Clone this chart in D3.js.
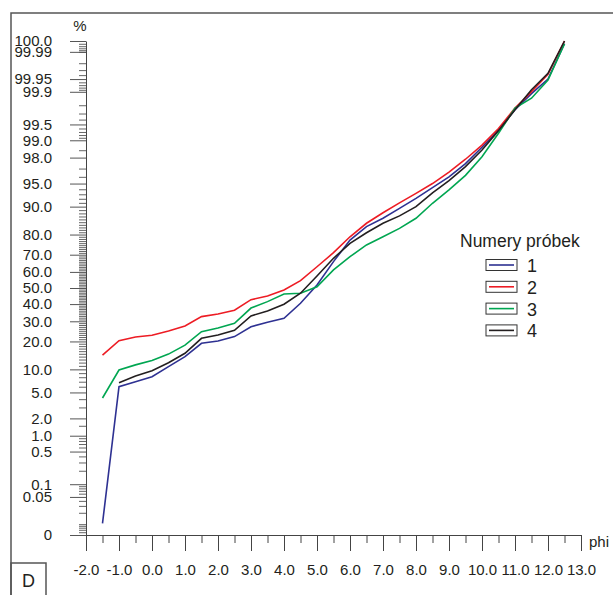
<!DOCTYPE html>
<html>
<head>
<meta charset="utf-8">
<script src="https://cdn.jsdelivr.net/npm/d3@7"></script>
<style>
  body { margin: 0; background: #fff; }
  text { font-family: "Liberation Sans", Arial, sans-serif; fill: #231f20; }
</style>
</head>
<body>
<div id="chart"></div>
<script>
var svgWidth = 613;
var svgHeight = 595;

// phi classes (x) and cumulative percentages per sample
var phi = [-1.5, -1.0, -0.5, 0.0, 0.5, 1.0, 1.5, 2.0, 2.5, 3.0, 3.5, 4.0, 4.5, 5.0, 5.5,
           6.0, 6.5, 7.0, 7.5, 8.0, 8.5, 9.0, 9.5, 10.0, 10.5, 11.0, 11.5, 12.0, 12.5];

var sample1 = [0.0105, 6.0, 7.0, 8.1, 10.8, 14.0, 19.2, 20.2, 22.2, 27.1, 29.5, 31.7, 40.5, 51.9, 66.1,
               77.5, 83.3, 86.4, 89.5, 92.1, 94.3, 96.0, 97.5, 98.67, 99.36, 99.75, 99.89, 99.95, 99.994];
var sample2 = [14.5, 20.3, 22.0, 22.8, 24.9, 27.5, 32.6, 34.1, 36.3, 42.7, 45.0, 48.8, 54.6, 63.1, 71.1,
               79.0, 84.6, 88.2, 91.0, 93.2, 95.0, 96.6, 97.87, 98.78, 99.40, 99.77, 99.90, 99.962, 99.996];
var sample3 = [4.16, 9.83, 11.3, 12.7, 14.9, 18.4, 24.6, 26.4, 28.9, 37.6, 41.5, 46.2, 46.7, 50.8, 61.2,
               68.9, 75.1, 79.0, 82.6, 86.4, 90.9, 93.9, 96.2, 98.07, 99.26, 99.77, 99.86, 99.947, 99.994];
var sample4 = [null, 6.8, 8.3, 9.65, 11.98, 15.2, 21.4, 23.0, 25.3, 33.0, 35.9, 39.9, 46.7, 57.5, 68.0,
               75.9, 80.8, 84.6, 87.2, 90.0, 93.3, 95.45, 97.2, 98.51, 99.34, 99.75, 99.91, 99.964, 99.995];

var sampleNames = ["1", "2", "3", "4"];
var sampleColors = ["#2e3192", "#ed1c24", "#00a651", "#231f20"];

// probability axis ticks
var yTickValues = [0, 0.05, 0.1, 0.5, 1, 2, 5, 10, 20, 30, 40, 50, 60, 70, 80, 90, 95, 98, 99, 99.5, 99.9, 99.95, 99.99, 100];
var yTickLabels = ["0", "0.05", "0.1", "0.5", "1.0", "2.0", "5.0", "10.0", "20.0", "30.0", "40.0", "50.0", "60.0", "70.0",
                   "80.0", "90.0", "95.0", "98.0", "99.0", "99.5", "99.9", "99.95", "99.99", "100.0"];
var yMinorValues = [0.006, 0.007, 0.008, 0.009, 0.01, 0.02, 0.03, 0.04, 0.06, 0.07, 0.08, 0.09, 0.2, 0.3, 0.4,
                    0.6, 0.7, 0.8, 0.9, 1.5, 3, 4, 6, 7, 8, 9,
                    11, 12, 13, 14, 15, 16, 17, 18, 19, 21, 22, 23, 24, 25, 26, 27, 28, 29,
                    31, 32, 33, 34, 35, 36, 37, 38, 39, 41, 42, 43, 44, 45, 46, 47, 48, 49,
                    51, 52, 53, 54, 55, 56, 57, 58, 59, 61, 62, 63, 64, 65, 66, 67, 68, 69,
                    71, 72, 73, 74, 75, 76, 77, 78, 79, 81, 82, 83, 84, 85, 86, 87, 88, 89,
                    91, 92, 93, 94, 96, 97, 98.5, 99.1, 99.2, 99.3, 99.4, 99.6, 99.7, 99.8,
                    99.91, 99.92, 99.93, 99.94, 99.96, 99.97, 99.98, 99.99, 99.991, 99.992, 99.993, 99.994];

var xTicks = d3.range(-2, 13.01, 1);
var xMinor = d3.range(-1.5, 13, 1);

var zMax = 3.89;

// inverse normal cdf (Acklam)
function probit(p) {
    var a = [-3.969683028665376e+01, 2.209460984245205e+02, -2.759285104469687e+02, 1.383577518672690e+02, -3.066479806614716e+01, 2.506628277459239e+00];
    var b = [-5.447609879822406e+01, 1.615858368580409e+02, -1.556989798598866e+02, 6.680131188771972e+01, -1.328068155288572e+01];
    var c = [-7.784894002430293e-03, -3.223964580411365e-01, -2.400758277161838e+00, -2.549732539343734e+00, 4.374664141464968e+00, 2.938163982698783e+00];
    var d = [7.784695709041462e-03, 3.224671290700398e-01, 2.445134137142996e+00, 3.754408661907416e+00];
    var q, r;
    if (p < 0.02425) {
        q = Math.sqrt(-2 * Math.log(p));
        return (((((c[0]*q+c[1])*q+c[2])*q+c[3])*q+c[4])*q+c[5]) / ((((d[0]*q+d[1])*q+d[2])*q+d[3])*q+1);
    }
    if (p <= 1 - 0.02425) {
        q = p - 0.5; r = q * q;
        return (((((a[0]*r+a[1])*r+a[2])*r+a[3])*r+a[4])*r+a[5])*q / (((((b[0]*r+b[1])*r+b[2])*r+b[3])*r+b[4])*r+1);
    }
    q = Math.sqrt(-2 * Math.log(1 - p));
    return -(((((c[0]*q+c[1])*q+c[2])*q+c[3])*q+c[4])*q+c[5]) / ((((d[0]*q+d[1])*q+d[2])*q+d[3])*q+1);
}

function zOf(pct) {
    if (pct <= 0) return -zMax;
    if (pct >= 100) return zMax;
    return Math.max(-zMax, Math.min(zMax, probit(pct / 100)));
}

var svg = d3.select("#chart")
    .append("svg")
    .attr("width", svgWidth)
    .attr("height", svgHeight);

var xScale = d3.scaleLinear().domain([-2, 13]).range([86, 581]);
var yScale = d3.scaleLinear().domain([-zMax, zMax]).range([535, 41]);

// frame
svg.append("path")
    .attr("d", "M11,595 V13 H613")
    .attr("fill", "none")
    .attr("stroke", "#555")
    .attr("stroke-width", 1.5);

svg.append("rect")
    .attr("x", 11).attr("y", 563).attr("width", 35).attr("height", 40)
    .attr("fill", "none").attr("stroke", "#555").attr("stroke-width", 1.5);

svg.append("text")
    .attr("x", 28.5).attr("y", 587)
    .attr("text-anchor", "middle")
    .attr("font-size", "18px")
    .text("D");

// y axis, minor ticks first
var yMinorAxis = d3.axisLeft(yScale)
    .tickValues(yMinorValues.map(zOf))
    .tickSize(7)
    .tickSizeOuter(0)
    .tickFormat("");

svg.append("g")
    .attr("transform", "translate(86,0)")
    .call(yMinorAxis)
    .call(g => g.selectAll("line").attr("stroke", "#555").attr("stroke-width", 0.9))
    .call(g => g.select(".domain").attr("stroke", "#444"));

var yAxis = d3.axisLeft(yScale)
    .tickValues(yTickValues.map(zOf))
    .tickSize(16)
    .tickSizeOuter(0)
    .tickPadding(18)
    .tickFormat((d, i) => yTickLabels[i]);

svg.append("g")
    .attr("transform", "translate(86,0)")
    .call(yAxis)
    .call(g => g.select(".domain").remove())
    .call(g => g.selectAll("line").attr("stroke", "#555"))
    .call(g => g.selectAll("text")
        .attr("font-size", "15px")
        .attr("font-family", "Liberation Sans, Arial, sans-serif")
        .attr("fill", "#231f20"));

svg.append("text")
    .attr("x", 80).attr("y", 31)
    .attr("text-anchor", "middle")
    .attr("font-size", "15px")
    .text("%");

// x axis
var xMinorAxis = d3.axisBottom(xScale)
    .tickValues(xMinor)
    .tickSize(8)
    .tickSizeOuter(0)
    .tickFormat("");

svg.append("g")
    .attr("transform", "translate(0,535)")
    .call(xMinorAxis)
    .call(g => g.selectAll("line").attr("stroke", "#444"))
    .call(g => g.select(".domain").attr("stroke", "#444"));

var xAxis = d3.axisBottom(xScale)
    .tickValues(xTicks)
    .tickSize(16)
    .tickSizeOuter(0)
    .tickPadding(13)
    .tickFormat(d => d.toFixed(1));

svg.append("g")
    .attr("transform", "translate(0,535)")
    .call(xAxis)
    .call(g => g.select(".domain").remove())
    .call(g => g.selectAll("line").attr("stroke", "#444"))
    .call(g => g.selectAll("text")
        .attr("font-size", "15px")
        .attr("font-family", "Liberation Sans, Arial, sans-serif")
        .attr("fill", "#231f20"));

svg.append("text")
    .attr("x", 589).attr("y", 547)
    .attr("font-size", "15px")
    .text("phi");

// curves
var samples = [sample1, sample2, sample3, sample4];

var line = d3.line()
    .defined(d => d[1] !== null)
    .x(d => xScale(d[0]))
    .y(d => yScale(zOf(d[1])));

samples.forEach(function (s, i) {
    svg.append("path")
        .datum(phi.map((p, j) => [p, s[j]]))
        .attr("fill", "none")
        .attr("stroke", sampleColors[i])
        .attr("stroke-width", 1.6)
        .attr("d", line);
});

// legend
svg.append("text")
    .attr("x", 460).attr("y", 247)
    .attr("font-size", "17.5px")
    .text("Numery próbek");

var legend = svg.append("g")
    .selectAll("g")
    .data(sampleNames)
    .enter()
    .append("g")
    .attr("transform", (d, i) => `translate(486, ${259.5 + i * 21.8})`);

legend.append("rect")
    .attr("width", 31).attr("height", 11)
    .attr("fill", "#fff")
    .attr("stroke", "#333")
    .attr("stroke-width", 1);

legend.append("line")
    .attr("x1", 3).attr("x2", 28)
    .attr("y1", 5.5).attr("y2", 5.5)
    .attr("stroke", (d, i) => sampleColors[i])
    .attr("stroke-width", 1.6);

legend.append("text")
    .attr("x", 41).attr("y", 12.5)
    .attr("font-size", "18px")
    .text(d => d);
</script>
</body>
</html>
